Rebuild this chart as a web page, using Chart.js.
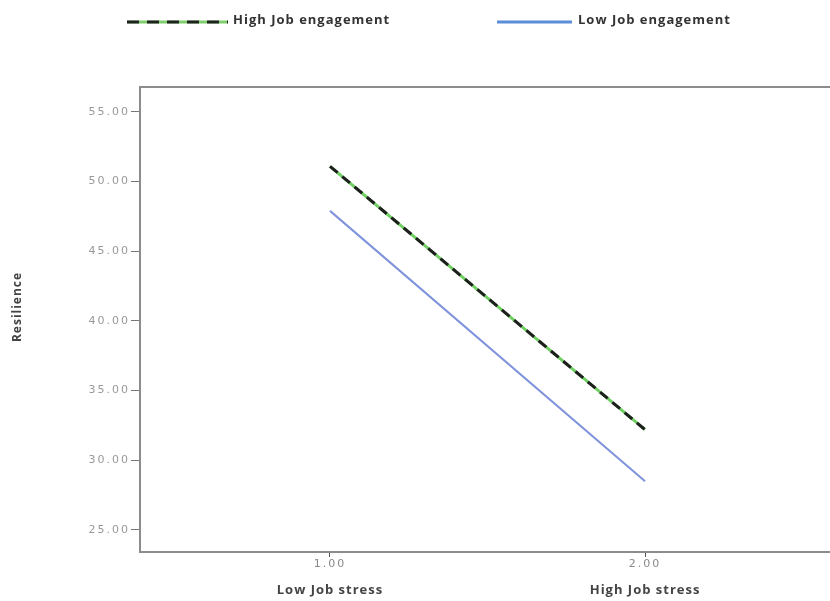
<!DOCTYPE html>
<html lang="en">
<head>
<meta charset="UTF-8">
<script src="https://cdn.jsdelivr.net/npm/chart.js"></script>
<style>
  * { margin: 0; padding: 0; }
  body { background: #fff; }
  #wrap { width: 830px; height: 601px; }
</style>
</head>
<body>
<div id="wrap"><canvas id="myChart" width="830" height="601"></canvas></div>
<script>
// values
const stressLevels = [1, 2];
const stressNames = ['Low Job stress', 'High Job stress'];
const highEngagement = [51.1, 32.2];
const lowEngagement = [47.9, 28.5];
const yTicks = [25, 30, 35, 40, 45, 50, 55];
const yTitle = 'Resilience';

const pts = (arr) => arr.map((v, i) => ({ x: stressLevels[i], y: v }));

// legend, top frame line, axis title and category names
const extras = {
  id: 'extras',
  beforeDraw(chart) {
    // wide-spaced tick numbers like the original
    chart.ctx.letterSpacing = '2px';
  },
  beforeDatasetsDraw(chart) {
    chart.ctx.letterSpacing = '0px';
  },
  afterDraw(chart) {
    const ctx = chart.ctx;
    const area = chart.chartArea;
    const xs = chart.scales.x;
    ctx.save();
    // top frame line
    ctx.strokeStyle = '#8c8c8c';
    ctx.lineWidth = 2;
    ctx.beginPath();
    ctx.moveTo(area.left, area.top);
    ctx.lineTo(area.right, area.top);
    ctx.stroke();

    ctx.letterSpacing = '1px';
    // category names
    ctx.fillStyle = '#444';
    ctx.font = 'bold 13px "Open Sans"';
    ctx.textAlign = 'center';
    ctx.textBaseline = 'middle';
    stressNames.forEach((name, i) => {
      ctx.fillText(name, xs.getPixelForValue(stressLevels[i]), 590);
    });

    // y title
    ctx.save();
    ctx.translate(18, 307);
    ctx.rotate(-Math.PI / 2);
    ctx.font = 'bold 12px "Open Sans"';
    ctx.fillText(yTitle, 0, 0);
    ctx.restore();

    // legend
    ctx.lineWidth = 3;
    ctx.strokeStyle = '#7fcf6f';
    ctx.beginPath(); ctx.moveTo(127, 22); ctx.lineTo(228, 22); ctx.stroke();
    ctx.strokeStyle = '#222';
    ctx.setLineDash([12, 8]);
    ctx.beginPath(); ctx.moveTo(127, 22); ctx.lineTo(228, 22); ctx.stroke();
    ctx.setLineDash([]);
    ctx.strokeStyle = '#5b8ed6';
    ctx.beginPath(); ctx.moveTo(497, 22); ctx.lineTo(572, 22); ctx.stroke();

    ctx.fillStyle = '#333';
    ctx.font = 'bold 13px "Open Sans"';
    ctx.textAlign = 'left';
    ctx.fillText(chart.data.datasets[1].label, 233, 20);
    ctx.fillText(chart.data.datasets[2].label, 578, 20);
    ctx.restore();
  }
};

const config = {
  type: 'line',
  data: {
    datasets: [
      {
        label: '',
        data: pts(highEngagement),
        borderColor: '#6fcf63',
        borderWidth: 3,
        pointRadius: 0,
        order: 3
      },
      {
        label: 'High Job engagement',
        data: pts(highEngagement),
        borderColor: '#1e1e1e',
        borderWidth: 3,
        borderDash: [10, 6],
        pointRadius: 0,
        order: 2
      },
      {
        label: 'Low Job engagement',
        data: pts(lowEngagement),
        borderColor: '#7f93dc',
        borderWidth: 2,
        pointRadius: 0,
        order: 1
      }
    ]
  },
  plugins: [extras],
  options: {
    responsive: false,
    animation: false,
    layout: { padding: { top: 87, right: 0, left: 0, bottom: 0 } },
    plugins: { legend: { display: false }, tooltip: { enabled: false } },
    scales: {
      x: {
        type: 'linear',
        min: 0.397,
        max: 2.587,
        afterBuildTicks: (s) => { s.ticks = stressLevels.map(v => ({ value: v })); },
        afterFit: (s) => { s.height = 49; },
        ticks: {
          color: '#888',
          font: { family: 'DejaVu Sans', size: 11 },
          padding: 1,
          callback: (v) => Number(v).toFixed(2)
        },
        grid: { drawOnChartArea: false, drawTicks: true, tickLength: 5, color: '#555', lineWidth: 1 },
        border: { display: true, color: '#8c8c8c', width: 2 }
      },
      y: {
        min: 23.42,
        max: 56.79,
        afterBuildTicks: (s) => { s.ticks = yTicks.map(v => ({ value: v })); },
        afterFit: (s) => { s.width = 140; },
        ticks: {
          color: '#999',
          font: { family: 'DejaVu Sans', size: 11 },
          padding: 1,
          callback: (v) => Number(v).toFixed(2)
        },
        grid: { drawOnChartArea: false, drawTicks: true, tickLength: 9, color: '#777', lineWidth: 1 },
        border: { display: true, color: '#8c8c8c', width: 2 }
      }
    }
  }
};

new Chart(document.getElementById('myChart'), config);
</script>
</body>
</html>
